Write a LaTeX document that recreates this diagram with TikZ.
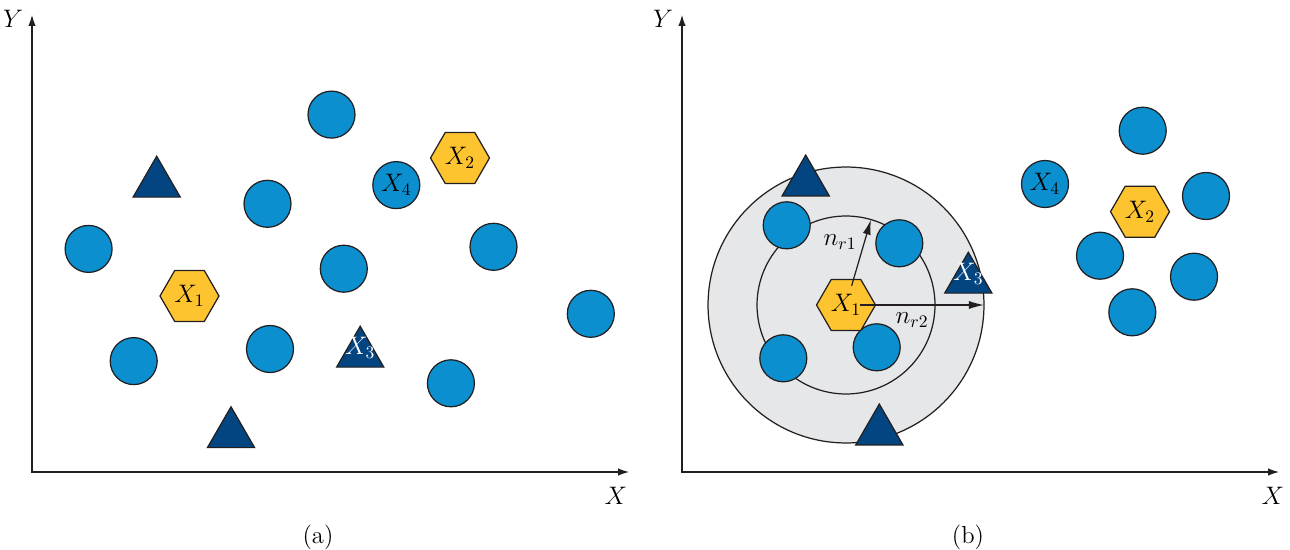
\documentclass[tikz,border=0pt]{standalone}
\usepackage{amsmath}
\usepackage{xcolor}
\usepackage{tikz}
\usetikzlibrary{arrows.meta,calc,shapes.geometric}
\definecolor{cblue}{HTML}{0B8FCE}
\definecolor{cnavy}{HTML}{034580}
\definecolor{cyellow}{HTML}{FEC430}
\definecolor{cgrey}{HTML}{E6E7E8}
\definecolor{cline}{HTML}{231F20}
\tikzset{
  >={Latex[length=2.2mm,width=1.5mm]},
  caxis/.style={<->, cline, line width=0.6pt},
  cdot/.style={circle, draw=cline, fill=cblue, line width=0.7pt,
               minimum size=0.94cm, inner sep=0pt, font=\fontsize{14}{16}\selectfont},
  chex/.style={regular polygon, regular polygon sides=6, draw=cline, fill=cyellow,
               line width=0.7pt, minimum size=1.18cm, inner sep=0pt,
               font=\fontsize{14}{16}\selectfont},
  ctri/.style={regular polygon, regular polygon sides=3, draw=cline, fill=cnavy,
               line width=0.7pt, minimum size=1.09cm, inner sep=0pt},
  cwlbl/.style={text=white, font=\fontsize{14}{16}\selectfont, yshift=0.12cm},
  cring/.style={draw=cline, line width=0.7pt},
  crad/.style={-{Latex[length=3mm,width=1.6mm]}, cline, line width=0.7pt},
  clbl/.style={font=\fontsize{14}{16}\selectfont},
}
\begin{document}
\begin{tikzpicture}[x=0.02cm,y=-0.02cm]
  \useasboundingbox (0,0) rectangle (1290,550);

  % panel (a)
  \coordinate (aY) at (32,15);
  \coordinate (aX) at (629,472);
  \draw[caxis] (aY) |- (aX);
  \node[clbl] (aYl) at (13,19) {$Y$};
  \node[clbl] (aXl) at (616,496) {$X$};
  \node[clbl] (acap) at (318,537) {(a)};

  \node[cdot] (a1) at (331.5,114.6) {};
  \node[cdot] (a2) at (267.5,203.8) {};
  \node[cdot] (a3) at (88.6,248.9) {};
  \node[cdot] (a4) at (343.8,268.7) {};
  \node[cdot] (a5) at (493.5,246.8) {};
  \node[cdot] (a6) at (396.3,185.1) {$X_4$};
  \node[cdot] (a7) at (590.8,313.8) {};
  \node[cdot] (a8) at (133.7,361.1) {};
  \node[cdot] (a9) at (270,349) {};
  \node[cdot] (a10) at (450.9,383.3) {};

  \node[chex] (ah1) at (189.5,296) {$X_1$};
  \node[chex] (ah2) at (460,158) {$X_2$};

  \node[ctri] (at1) at (156.7,183.5) {};
  \node[ctri] (at2) at (231,434) {};
  \node[ctri, label={[cwlbl]center:$X_3$}] (at3) at (360.2,353.5) {};

  % panel (b)
  \coordinate (bY) at (682,15);
  \coordinate (bX) at (1279,472);
  \draw[caxis] (bY) |- (bX);
  \node[clbl] (bYl) at (663,19) {$Y$};
  \node[clbl] (bXl) at (1273,496) {$X$};
  \node[clbl] (bcap) at (968,537) {(b)};

  % neighbourhood rings round X1
  \coordinate (bc) at (846,305);
  \draw[cring, fill=cgrey] (bc) circle[radius=2.76cm];
  \draw[cring] (bc) circle[radius=1.78cm];

  \node[cdot] (b1) at (786.7,225.3) {};
  \node[cdot] (b2) at (899.3,243.3) {};
  \node[cdot] (b3) at (783.3,358.3) {};
  \node[cdot] (b4) at (876.7,347.3) {};
  \node[chex] (bh1) at (bc) {$X_1$};

  \node[ctri] (bt1) at (805.7,182.3) {};
  \node[ctri] (bt2) at (879.3,431.3) {};
  \node[ctri, label={[cwlbl]center:$X_3$}] (bt3) at (968.3,279.5) {};

  % radii
  \coordinate (r1) at ($(bc)+(73.7:1.78cm)$);
  \coordinate (r2) at ($(bc)+(0:2.76cm)$);
  \draw[crad, shorten <=0.4cm] (bh1.center) -- (r1);
  \draw[crad, shorten <=0.28cm] (bh1.center) -- (r2);
  \node[clbl] (n1) at (840,242) {$n_{r1}$};
  \node[clbl] (n2) at (912,320) {$n_{r2}$};

  % second cluster
  \node[cdot] (c1) at (1142.7,130.7) {};
  \node[cdot] (c2) at (1045,184) {$X_4$};
  \node[cdot] (c3) at (1206,196) {};
  \node[chex] (ch2) at (1140,211.7) {$X_2$};
  \node[cdot] (c4) at (1100,255.7) {};
  \node[cdot] (c5) at (1194,276.7) {};
  \node[cdot] (c6) at (1132.3,312.3) {};

\end{tikzpicture}
\end{document}
